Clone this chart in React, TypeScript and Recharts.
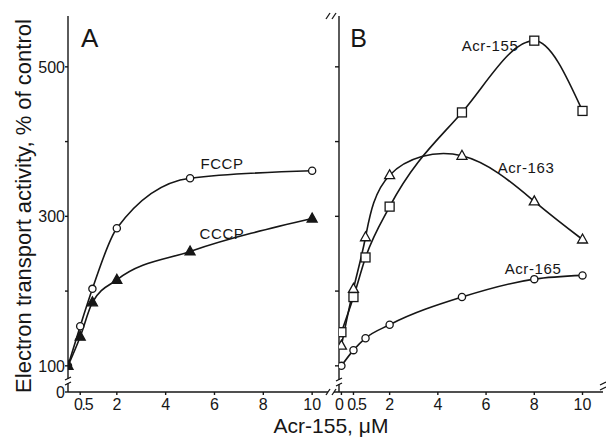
import React from "react";
import { LineChart, Line, XAxis, YAxis } from "recharts";

// panel A: uncouplers, x = concentration (uM)
const concA = [0, 0.5, 1, 2, 5, 10];
const fccp = [100, 153, 203, 284, 351, 361];
const cccp = [100, 139, 185, 215, 253, 297];

// panel B: acridine derivatives
const concB = [0, 0.5, 1, 2, 5, 8, 10];
const acr155 = [145, 192, 245, 313, 439, 535, 441];
const acr163 = [127, 203, 272, 355, 381, 320, 269];
const acr165 = [100, 121, 137, 155, 192, 216, 221];

const ticksA = [0.5, 2, 4, 6, 8, 10];
const ticksB = [0, 0.5, 2, 4, 6, 8, 10];
const yTicks = [65, 100, 200, 300, 400, 500];
const yTickLabels: Record<number, string> = { 65: "0", 100: "100", 300: "300", 500: "500" };

const FONT = "'Liberation Sans', Arial, Helvetica, sans-serif";
const INK = "#161616";

const toPoints = (xs: number[], ys: number[]) => xs.map((x, i) => ({ x, y: ys[i] }));

const tickStyle = { fill: INK, fontSize: 16, fontFamily: FONT };
const axisStroke = { stroke: INK, strokeWidth: 1.4 };
const blank = () => "";

// x tick labels; the crowded 0 / 0.5 pair is nudged apart
const XTick = (p: any) => {
  const v = p.payload.value;
  const dx = v === 0 ? -2 : v === 0.5 ? 3 : 0;
  return (
    <text x={p.x + dx} y={p.y} dy="0.75em" textAnchor="middle" fontSize={16} fontFamily={FONT} fill={INK}
      letterSpacing={v === 0.5 ? -1.2 : 0}>
      {v === 0.5 ? "0.5" : String(v)}
    </text>
  );
};

const circleDot = (p: any) => (
  <circle key={`c${p.index}`} cx={p.cx} cy={p.cy} r={3.6} fill="#fff" stroke={INK} strokeWidth={1.3} />
);
const squareDot = (p: any) => (
  <rect key={`s${p.index}`} x={p.cx - 4.5} y={p.cy - 4.5} width={9} height={9} fill="#fff" stroke={INK} strokeWidth={1.3} />
);
const triangleDot = (filled: boolean) => (p: any) => (
  <path
    key={`t${p.index}`}
    d={`M${p.cx},${p.cy - 5.5}L${p.cx + 5},${p.cy + 3.5}L${p.cx - 5},${p.cy + 3.5}Z`}
    fill={filled ? INK : "#fff"}
    stroke={INK}
    strokeWidth={1.3}
  />
);

const PanelA = () => (
  <LineChart width={339} height={444} margin={{ top: 16, right: 0, bottom: 22, left: 0 }}>
    <XAxis xAxisId="b" dataKey="x" type="number" domain={[0, 11.1]} ticks={ticksA} interval={0}
      height={30} tick={XTick} axisLine={axisStroke} tickLine={axisStroke} tickSize={3} tickMargin={3} allowDataOverflow />
    <XAxis xAxisId="t" orientation="top" dataKey="x" type="number" domain={[0, 11.1]} ticks={ticksA} interval={0}
      mirror height={0} tickFormatter={blank} axisLine={axisStroke} tickLine={axisStroke} tickSize={5} allowDataOverflow />
    <YAxis dataKey="y" type="number" domain={[65, 568]} ticks={yTicks} width={68} interval={0}
      tickFormatter={(v: number) => yTickLabels[v] ?? ""} tick={tickStyle} axisLine={axisStroke} tickLine={axisStroke}
      tickSize={3} tickMargin={0} allowDataOverflow />
    <Line xAxisId="b" data={toPoints(concA, fccp)} dataKey="y" type="monotone" stroke={INK} strokeWidth={1.6}
      dot={circleDot} activeDot={false} isAnimationActive={false} />
    <Line xAxisId="b" data={toPoints(concA, cccp)} dataKey="y" type="monotone" stroke={INK} strokeWidth={1.6}
      dot={triangleDot(true)} activeDot={false} isAnimationActive={false} />
  </LineChart>
);

const PanelB = () => (
  <LineChart width={306} height={444} margin={{ top: 16, right: 3, bottom: 22, left: 0 }}>
    <XAxis xAxisId="b" dataKey="x" type="number" domain={[-0.1, 10.85]} ticks={ticksB} interval={0}
      height={30} tick={XTick} axisLine={axisStroke} tickLine={axisStroke} tickSize={3} tickMargin={3} allowDataOverflow />
    <XAxis xAxisId="t" orientation="top" dataKey="x" type="number" domain={[-0.1, 10.85]} ticks={[2, 4, 6, 8, 10]} interval={0}
      mirror height={0} tickFormatter={blank} axisLine={axisStroke} tickLine={axisStroke} tickSize={5} allowDataOverflow />
    <YAxis yAxisId="l" dataKey="y" type="number" domain={[65, 568]} ticks={yTicks.slice(1)} width={39} interval={0}
      tickFormatter={blank} axisLine={axisStroke} tickLine={axisStroke} tickSize={4} allowDataOverflow />
    <YAxis yAxisId="r" orientation="right" dataKey="y" type="number" domain={[65, 568]} ticks={yTicks.slice(1)} interval={0}
      width={0} mirror tickFormatter={blank} axisLine={axisStroke} tickLine={axisStroke} tickSize={5} allowDataOverflow />
    <Line xAxisId="b" yAxisId="l" data={toPoints(concB, acr165)} dataKey="y" type="monotone" stroke={INK}
      strokeWidth={1.6} dot={circleDot} activeDot={false} isAnimationActive={false} />
    <Line xAxisId="b" yAxisId="l" data={toPoints(concB, acr163)} dataKey="y" type="natural" stroke={INK}
      strokeWidth={1.6} dot={triangleDot(false)} activeDot={false} isAnimationActive={false} />
    <Line xAxisId="b" yAxisId="l" data={toPoints(concB, acr155)} dataKey="y" type="monotone" stroke={INK}
      strokeWidth={1.6} dot={squareDot} activeDot={false} isAnimationActive={false} />
  </LineChart>
);

// axis break marks (//) drawn over the axis lines
const BreakX = ({ x, y }: { x: number; y: number }) => (
  <g stroke={INK} strokeWidth={1.3}>
    <rect x={x - 3} y={y - 2} width={6} height={4} fill="#fff" stroke="none" />
    <line x1={x - 5} y1={y + 3} x2={x - 1} y2={y - 3} />
    <line x1={x + 1} y1={y + 3} x2={x + 5} y2={y - 3} />
  </g>
);
const BreakY = ({ x, y }: { x: number; y: number }) => (
  <g stroke={INK} strokeWidth={1.3}>
    <rect x={x - 2} y={y - 2} width={4} height={4} fill="#fff" stroke="none" />
    <line x1={x - 3} y1={y - 1} x2={x + 3} y2={y - 4} />
    <line x1={x - 3} y1={y + 4} x2={x + 3} y2={y + 1} />
  </g>
);

const labelStyle = { fontFamily: FONT, fill: INK, letterSpacing: 0.6 };

export default function App() {
  return (
    <div style={{ position: "absolute", left: 0, top: 0, width: 606, height: 444, background: "#fff" }}>
      <div style={{ position: "absolute", left: 0, top: 0 }}>
        <PanelA />
      </div>
      <div style={{ position: "absolute", left: 300, top: 0 }}>
        <PanelB />
      </div>
      <svg width={606} height={444} style={{ position: "absolute", left: 0, top: 0, pointerEvents: "none" }}>
        <BreakX x={331} y={16} />
        <BreakX x={331} y={392} />
        <BreakY x={68} y={381} />
        <BreakY x={339} y={382} />
        <BreakY x={603} y={386} />
        <text x={90} y={38} fontSize={26} textAnchor="middle" dominantBaseline="central" style={labelStyle}>A</text>
        <text x={359} y={38} fontSize={25} textAnchor="middle" dominantBaseline="central" style={labelStyle}>B</text>
        <text x={222} y={163} fontSize={15} textAnchor="middle" dominantBaseline="central" style={labelStyle}>FCCP</text>
        <text x={222} y={233} fontSize={15} textAnchor="middle" dominantBaseline="central" style={labelStyle}>CCCP</text>
        <text x={490} y={45} fontSize={15} textAnchor="middle" dominantBaseline="central" style={labelStyle}>Acr-155</text>
        <text x={526} y={167} fontSize={15} textAnchor="middle" dominantBaseline="central" style={labelStyle}>Acr-163</text>
        <text x={533} y={268} fontSize={15} textAnchor="middle" dominantBaseline="central" style={labelStyle}>Acr-165</text>
        <text x={331} y={425} fontSize={21} textAnchor="middle" dominantBaseline="central"
          style={{ fontFamily: FONT, fill: INK }}>Acr-155, μM</text>
        <text x={23} y={206} fontSize={22} textAnchor="middle" dominantBaseline="central"
          transform="rotate(-90 23 206)" style={{ fontFamily: FONT, fill: INK }}>
          Electron transport activity, % of control
        </text>
      </svg>
    </div>
  );
}
